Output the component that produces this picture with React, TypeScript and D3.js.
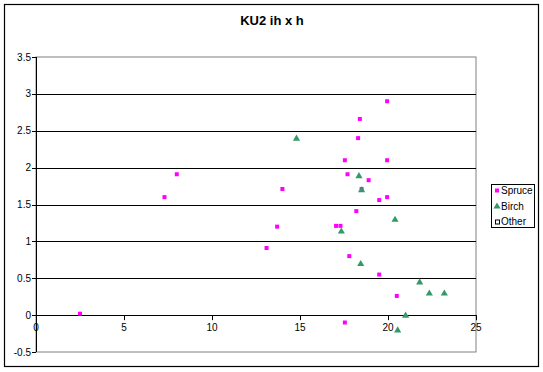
import React from "react";
import * as d3 from "d3";

const title = "KU2 ih x h";
const xTicks = [0, 5, 10, 15, 20, 25];
const yTicks = [-0.5, 0, 0.5, 1, 1.5, 2, 2.5, 3, 3.5];
const yTickLabels = ["-0.5", "0", "0.5", "1", "1.5", "2", "2.5", "3", "3.5"];

const spruceX = [2.5, 7.3, 8.0, 13.1, 13.7, 14.0, 17.05, 17.3, 17.55, 17.55, 17.7, 17.8, 18.2, 18.3, 18.4, 18.5, 18.9, 19.5, 19.5, 19.95, 19.95, 19.95, 20.5];
const spruceY = [0.02, 1.6, 1.91, 0.91, 1.2, 1.71, 1.21, 1.21, -0.1, 2.1, 1.91, 0.8, 1.41, 2.4, 2.66, 1.71, 1.83, 1.56, 0.55, 2.9, 2.1, 1.6, 0.26];

const birchX = [14.8, 17.35, 18.35, 18.5, 18.45, 20.4, 20.55, 21.0, 21.8, 22.35, 23.2];
const birchY = [2.4, 1.14, 1.89, 1.7, 0.7, 1.3, -0.2, 0.0, 0.45, 0.3, 0.3];

const legendItems = ["Spruce", "Birch", "Other"];

const W = 543;
const H = 372;
const font = "'Liberation Sans', Arial, sans-serif";
const pink = "#FF00FF";
const green = "#339966";

export default function App() {
  const x = d3.scaleLinear().domain([0, 25]).range([36, 476]);
  const y = d3.scaleLinear().domain([-0.5, 3.5]).range([352, 57]);
  const tri = d3.symbol().type(d3.symbolTriangle).size(22)();

  return (
    <svg
      width={W}
      height={H}
      style={{ position: "absolute", left: 0, top: 0, background: "#fff" }}
      fontFamily={font}
    >
      <rect x={0} y={0} width={W} height={H} fill="#fff" />
      <rect x={4.5} y={4.5} width={534} height={362} fill="none" stroke="#000" strokeWidth={1.2} />
      <text x={272} y={25} textAnchor="middle" fontSize={13} fontWeight="bold">
        {title}
      </text>
      {/* plot border (gray) */}
      <rect x={x(0)} y={y(3.5)} width={x(25) - x(0)} height={y(-0.5) - y(3.5)} fill="none" stroke="#808080" strokeWidth={1} />
      {/* gridlines */}
      {yTicks
        .filter((t) => t > 0 && t < 3.5)
        .map((t) => (
          <line key={"g" + t} x1={x(0)} x2={x(25)} y1={Math.round(y(t)) + 0.5} y2={Math.round(y(t)) + 0.5} stroke="#000" strokeWidth={1} />
        ))}
      {/* y axis */}
      <line x1={x(0) + 0.5} x2={x(0) + 0.5} y1={y(3.5)} y2={y(-0.5)} stroke="#000" />
      {yTicks.map((t, i) => (
        <g key={"y" + t}>
          <line x1={x(0) - 4} x2={x(0)} y1={Math.round(y(t)) + 0.5} y2={Math.round(y(t)) + 0.5} stroke="#000" />
          <text x={x(0) - 5} y={y(t) + 3.5} textAnchor="end" fontSize={10}>
            {yTickLabels[i]}
          </text>
        </g>
      ))}
      {/* x axis at 0 */}
      <line x1={x(0)} x2={x(25)} y1={Math.round(y(0)) + 0.5} y2={Math.round(y(0)) + 0.5} stroke="#000" />
      {xTicks.map((t) => (
        <g key={"x" + t}>
          <line x1={Math.round(x(t)) + 0.5} x2={Math.round(x(t)) + 0.5} y1={y(0)} y2={y(0) + 5} stroke="#000" />
          <text x={x(t)} y={y(0) + 16} textAnchor="middle" fontSize={10}>
            {t}
          </text>
        </g>
      ))}
      {/* spruce */}
      {spruceX.map((v, i) => (
        <rect key={"s" + i} x={x(v) - 2} y={y(spruceY[i]) - 2} width={4} height={4} fill={pink} />
      ))}
      {/* birch */}
      {birchX.map((v, i) => (
        <path key={"b" + i} d={tri || ""} transform={`translate(${x(v)},${y(birchY[i]) + 0.5})`} fill={green} />
      ))}
      {/* legend */}
      <rect x={491.5} y={184.5} width={43} height={43} fill="#fff" stroke="#000" />
      {legendItems.map((name, i) => {
        const cy = 190.5 + i * 15.5;
        return (
          <g key={name}>
            {i === 0 && <rect x={495} y={cy - 2} width={4} height={4} fill={pink} />}
            {i === 1 && <path d={tri || ""} transform={`translate(497,${cy + 0.5})`} fill={green} />}
            {i === 2 && <rect x={495.5} y={cy - 1.5} width={4} height={4} fill="#fff" stroke="#000" strokeWidth={1} />}
            <text x={501} y={cy + 3.5} fontSize={10}>
              {name}
            </text>
          </g>
        );
      })}
    </svg>
  );
}
